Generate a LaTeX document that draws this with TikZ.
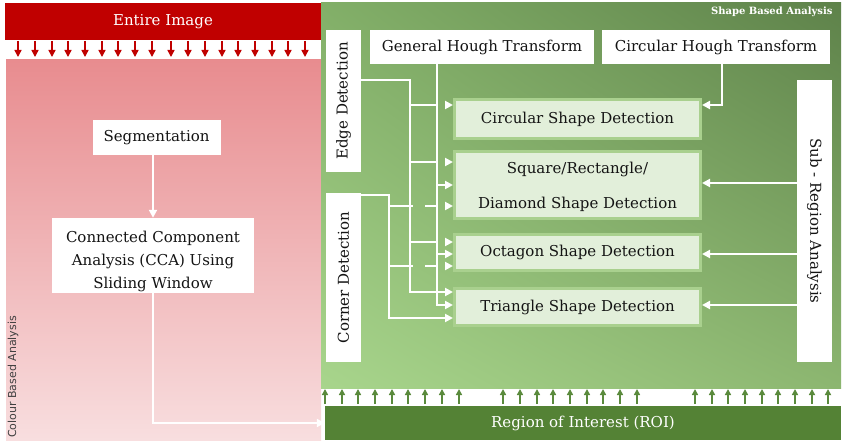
\documentclass[tikz,border=0pt]{standalone}
\usepackage{fontspec}
\setmainfont{DejaVu Serif}
\setsansfont{DejaVu Sans}
\usetikzlibrary{arrows.meta,shadings}
\definecolor{darkred}{HTML}{C00000}
\definecolor{pinktop}{RGB}{232,140,143}
\definecolor{pinkbot}{RGB}{248,222,223}
\definecolor{gdark}{RGB}{94,130,74}
\definecolor{gtl}{RGB}{130,175,104}
\definecolor{gbr}{RGB}{140,182,112}
\definecolor{glight}{RGB}{168,213,140}
\definecolor{roigreen}{HTML}{548235}
\definecolor{arrgreen}{RGB}{90,138,60}
\definecolor{shapefill}{HTML}{E2EFDA}
\definecolor{shapeborder}{HTML}{A9D08E}
\definecolor{txt}{RGB}{20,20,20}
\begin{document}
\begin{tikzpicture}[x=1pt,y=-1pt,
  boxfont/.style={font=\fontsize{15}{18}\selectfont},
  wbox/.style={fill=white,inner sep=0pt,boxfont,text=txt},
  shp/.style={draw=shapeborder,line width=3pt,fill=shapefill,inner sep=0pt,
    minimum width=246pt,boxfont,text=txt},
  wl/.style={draw=white,line width=2pt},
  wa/.style={wl,-{Triangle[length=8pt,width=8pt]}},
  edgegap/.style={dash pattern=on 27pt off 8pt},
  cornergap/.style={dash pattern=on 24pt off 12pt on 12pt off 8pt},
  redarr/.style={draw=darkred,line width=1.5pt,-{Triangle[length=7pt,width=7pt]}},
  grnarr/.style={draw=arrgreen,line width=1.5pt,-{Triangle[length=6pt,width=6pt]}}
]
\useasboundingbox (0,0) rectangle (845,446);
\fill[white] (0,0) rectangle (845,446);

% colour based side
\node[fill=darkred,minimum width=316pt,minimum height=37pt,inner sep=0pt,
  text=white,boxfont] (img) at (163,21.5) {Entire Image};
\foreach \x in {18,35,52,68,85,102,118,135,152,171,188,205,222,238,255,272,288,305}
  \draw[redarr] (\x,41) -- (\x,57);
\shade[top color=pinktop,bottom color=pinkbot] (6,60) rectangle (321,440);
\node[rotate=90,text=black!75,font=\sffamily\fontsize{11}{13}\selectfont]
  (cba) at (13,377) {Colour Based Analysis};
\node[wbox,minimum width=128pt,minimum height=35pt] (seg) at (156.5,137.5) {Segmentation};
\node[wbox,minimum width=202pt,minimum height=75pt,align=center,
  font=\fontsize{15}{23}\selectfont] (cca) at (153,255.5)
  {\rule{0pt}{23pt}Connected Component\\Analysis (CCA) Using\\Sliding Window};

% shape based side
\shade[upper left=gtl,upper right=gdark,lower left=glight,lower right=gbr]
  (321,3) rectangle (841,388);
\node[anchor=east,text=white,font=\bfseries\fontsize{10}{12}\selectfont]
  (sba) at (836,12) {Shape Based Analysis};
\node[wbox,rotate=90,minimum width=142pt,minimum height=35pt] (edge) at (343.5,101) {Edge Detection};
\node[wbox,rotate=90,minimum width=169pt,minimum height=35pt] (corner) at (343.5,277.5) {Corner Detection};
\node[wbox,minimum width=224pt,minimum height=34pt] (ght) at (482,47) {General Hough Transform};
\node[wbox,minimum width=228pt,minimum height=34pt] (cht) at (716,47) {Circular Hough Transform};
\node[wbox,rotate=-90,minimum width=282pt,minimum height=35pt] (sub) at (814.5,221) {Sub - Region Analysis};

\node[shp,minimum height=39pt] (circ) at (577.5,119) {Circular Shape Detection};
\node[shp,minimum height=67pt,align=center] (sq) at (577.5,185) {\rule{0pt}{16pt}Square/Rectangle/\\[17pt]Diamond Shape Detection};
\node[shp,minimum height=36pt] (oct) at (577.5,252.5) {Octagon Shape Detection};
\node[shp,minimum height=37pt] (tri) at (577.5,307) {Triangle Shape Detection};

\foreach \x in {325,342,358,375,392,408,425,442,459,503,520,537,553,570,587,603,620,637,695,712,728,745,762,778,795,812,828}
  \draw[grnarr] (\x,404) -- (\x,389);
\node[fill=roigreen,minimum width=516pt,minimum height=34pt,inner sep=0pt,
  text=white,boxfont] (roi) at (583,423) {Region of Interest (ROI)};

% connectors
\draw[wa] (seg.south -| cca.north) -- (cca.north);
\draw[wa] (cca.south) |- (roi.west);

\draw[wa] (edge.south |- 0,80) -- (410,80) -- (410,292) -- (tri.west |- 0,292);
\foreach \y/\n in {105/circ,162/sq,242/oct}
  \draw[wa,edgegap] (410,\y) -- (\n.west |- 0,\y);
\draw[wa] (ght.south -| 437,0) -- (437,305) -- (tri.west |- 0,305);
\foreach \y/\n in {185/sq,254/oct}
  \draw[wa] (437,\y) -- (\n.west |- 0,\y);
\draw[wa] (corner.south |- 0,195) -- (389,195) -- (389,318) -- (tri.west |- 0,318);
\foreach \y/\n in {206/sq,266/oct}
  \draw[wa,cornergap] (389,\y) -- (\n.west |- 0,\y);
\draw[wa] (cht.south -| 722,0) -- (722,105) -- (circ.east |- 0,105);
\foreach \y/\n in {183/sq,254/oct,305/tri}
  \draw[wa] (sub.south |- 0,\y) -- (\n.east |- 0,\y);
\end{tikzpicture}
\end{document}
